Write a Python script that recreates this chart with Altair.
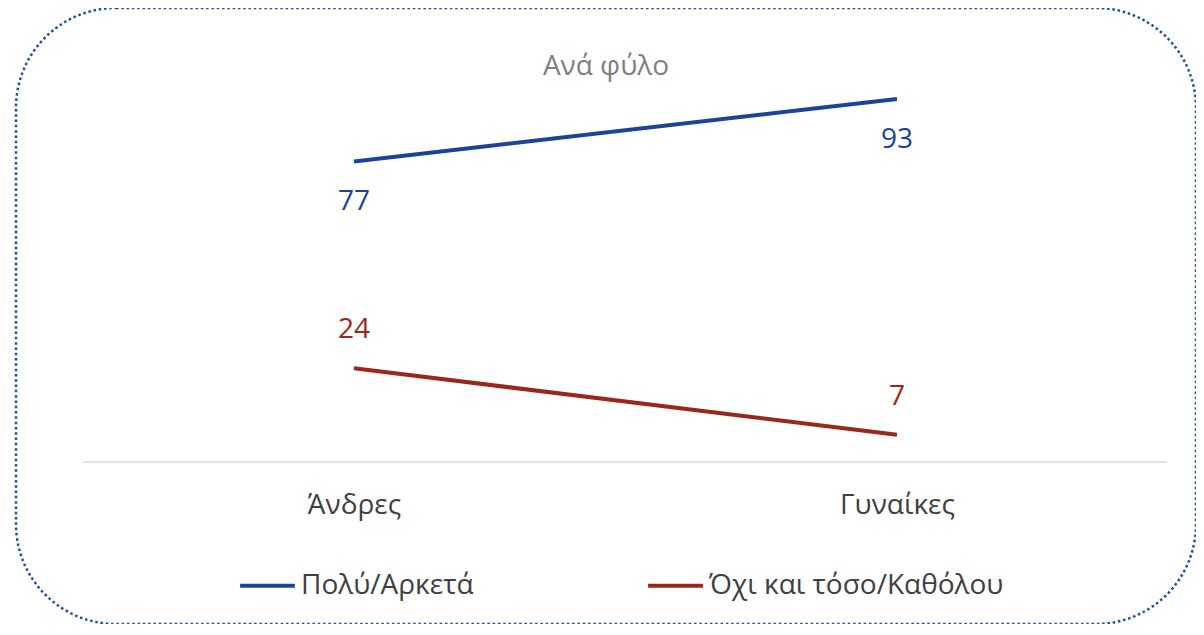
import altair as alt
import pandas as pd

categories = ["Άνδρες", "Γυναίκες"]
series_names = ["Πολύ/Αρκετά", "Όχι και τόσο/Καθόλου"]
values_polu = [77, 93]
values_oxi = [24, 7]
colors = ["#1A4597", "#9C2617"]
FONT = "Open Sans"
FS = 28

rows = []
for c, v in zip(categories, values_polu):
    rows.append({"cat": c, "series": series_names[0], "value": v})
for c, v in zip(categories, values_oxi):
    rows.append({"cat": c, "series": series_names[1], "value": v})
df = pd.DataFrame(rows)

x_enc = alt.X(
    "cat:N",
    sort=categories,
    scale=alt.Scale(type="point", padding=0.5866, align=0.5306),
    axis=alt.Axis(
        title=None, orient="bottom", offset=-162, domain=False, ticks=False,
        labelPadding=29, labelFontSize=FS, labelColor="#404040", labelFont=FONT,
        labelAngle=0,
    ),
)
y_scale = alt.Scale(domain=[-41.5, 116.3], nice=False, zero=False)
y_enc = alt.Y("value:Q", scale=y_scale, axis=None)
color_enc = alt.Color(
    "series:N",
    scale=alt.Scale(domain=series_names, range=colors),
    legend=alt.Legend(
        title=None, orient="none", direction="horizontal",
        legendX=222, legendY=548,
        symbolType="stroke", symbolStrokeWidth=4, symbolSize=3000,
        labelFontSize=FS, labelColor="#404040", labelFont=FONT,
        labelLimit=600, columnPadding=166, labelOffset=4,
    ),
)

base = alt.Chart(df)

baseline = alt.Chart(pd.DataFrame({"y": [0]})).mark_rule(
    color="#d9d9d9", strokeWidth=1.5
).encode(y=alt.Y("y:Q", scale=y_scale, axis=None), x=alt.value(67), x2=alt.value(1151))

lines = base.mark_line(strokeWidth=4).encode(x=x_enc, y=y_enc, color=color_enc)

labels_top = base.transform_filter(alt.datum.series == series_names[0]).mark_text(
    dy=41, fontSize=FS, font=FONT, color=colors[0]
).encode(x=alt.X("cat:N", sort=categories), y="value:Q", text="value:Q")

labels_bottom = base.transform_filter(alt.datum.series == series_names[1]).mark_text(
    dy=-38, fontSize=FS, font=FONT, color=colors[1]
).encode(x=alt.X("cat:N", sort=categories), y="value:Q", text="value:Q")

chart = alt.layer(baseline, lines, labels_top, labels_bottom).properties(
    width=1180, height=616,
    background="white",
    padding={"left": 8, "top": 0, "right": 0, "bottom": 0},
    title=alt.TitleParams(
        "Ανά φύλο", anchor="middle", offset=-73, fontSize=FS,
        font=FONT, color="#7f7f7f", fontWeight="normal",
    ),
).configure_view(
    stroke="#1F4E9C", strokeWidth=2.5, strokeDash=[2.5, 2.8], cornerRadius=100,
)

chart.save("out.html", embed_options={"renderer": "svg", "actions": False})
